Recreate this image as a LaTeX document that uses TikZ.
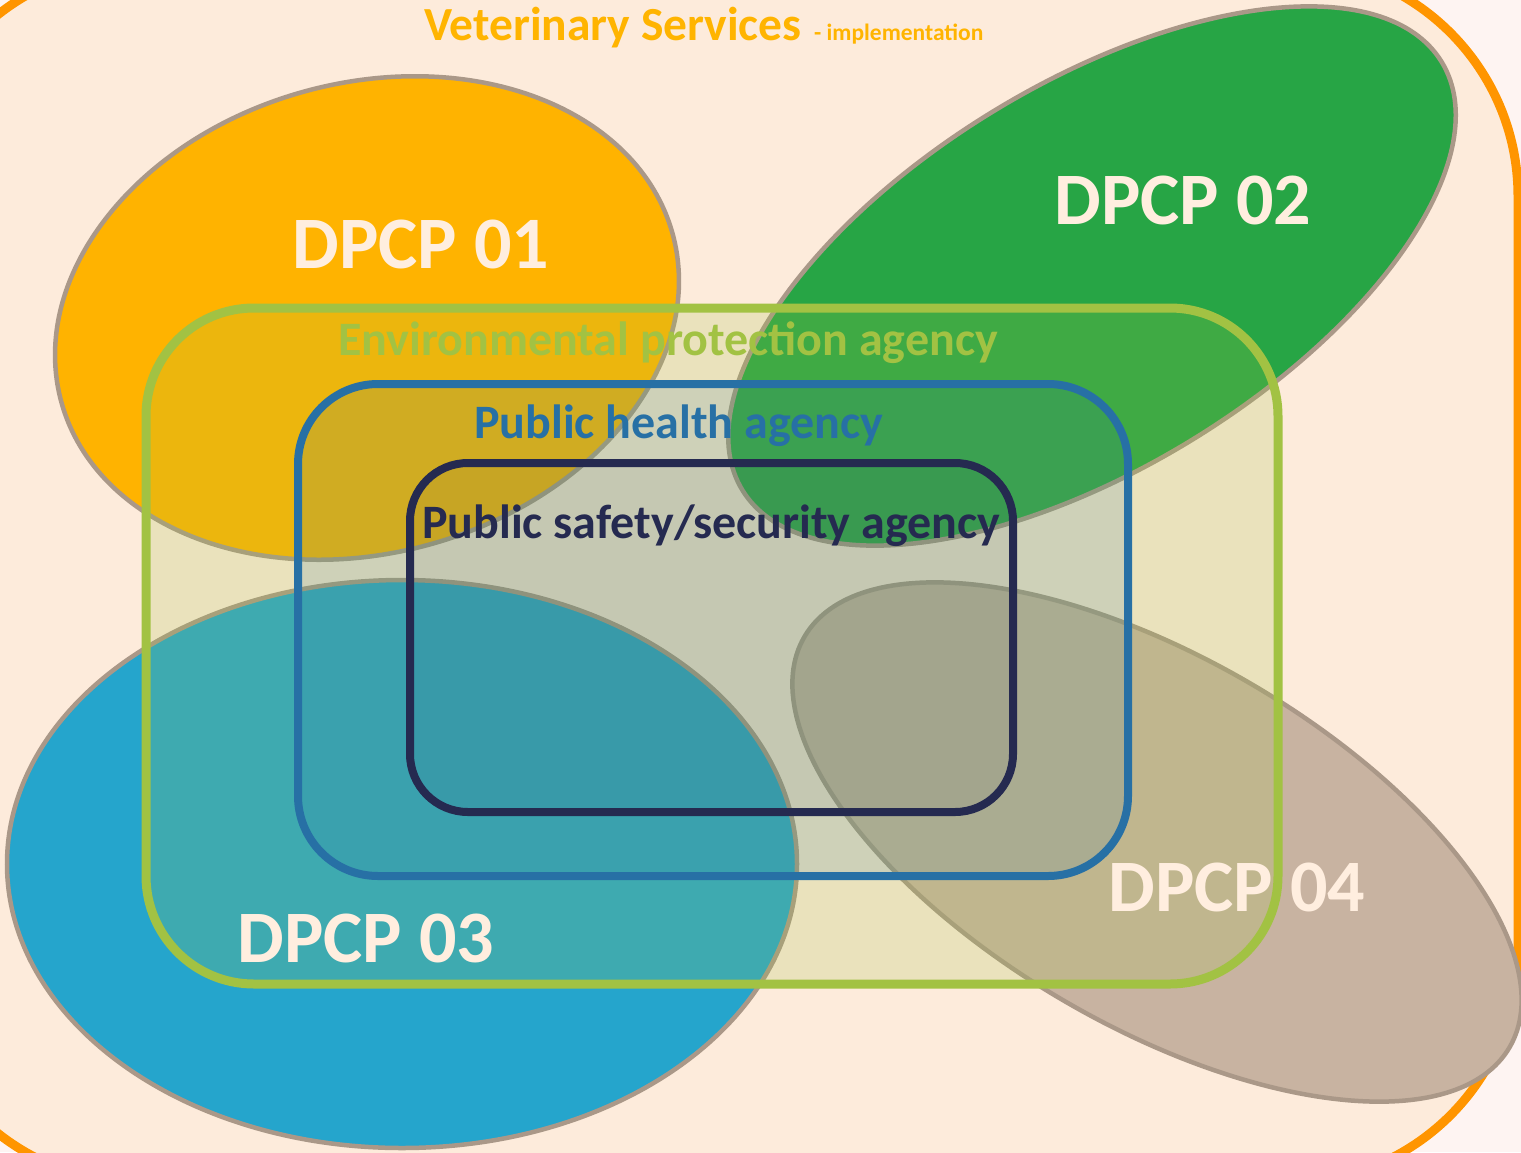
\documentclass[tikz,border=0pt]{standalone}
\usepackage{fontspec}
\setmainfont{Carlito}
\definecolor{outerbg}{HTML}{FEF4F2}
\definecolor{innerbg}{HTML}{FDEBDB}
\definecolor{frameorange}{HTML}{FF9500}
\definecolor{titlecol}{HTML}{FFB400}
\definecolor{eone}{HTML}{FFB300}
\definecolor{etwo}{HTML}{27A545}
\definecolor{ethree}{HTML}{25A5CC}
\definecolor{efour}{HTML}{C8B3A1}
\definecolor{eline}{HTML}{AA9888}
\definecolor{envgreen}{HTML}{A2C243}
\definecolor{phblue}{HTML}{2770A5}
\definecolor{navy}{HTML}{252A50}
\definecolor{dpcptext}{HTML}{FFEEDF}
\tikzset{
  blob/.style={draw=eline, line width=4.5pt},
  dpcplabel/.style={text=dpcptext, font=\fontsize{74}{80}\selectfont\bfseries, inner sep=0pt},
  agencylabel/.style={font=\fontsize{48}{54}\selectfont\bfseries, inner sep=0pt, anchor=base west},
}
\begin{document}
\begin{tikzpicture}[x=1pt,y=-1pt]
\useasboundingbox (0,0) rectangle (1521,1152);
\fill[outerbg] (0,0) rectangle (1521,1152);
\begin{scope}
\clip (0,0) rectangle (1521,1152);
% outer frame
\draw[frameorange, fill=innerbg, line width=9pt, rounded corners=231pt] (-90,-35) rectangle (1518,1183);
% ellipses
\draw[blob, fill=eone, rotate around={15.4:(367,318)}] (367,318) ellipse [x radius=317pt, y radius=235pt];
\draw[blob, fill=etwo, rotate around={31.5:(1092,276)}] (1092,276) ellipse [x radius=410pt, y radius=192pt];
\draw[blob, fill=ethree] (402,864) ellipse [x radius=395pt, y radius=284pt];
\draw[blob, fill=efour, rotate around={-30.2:(1157,842)}] (1157,842) ellipse [x radius=408pt, y radius=184pt];
\end{scope}
% rectangle fills
\fill[envgreen, fill opacity=0.2, rounded corners=108pt] (146,308) rectangle (1278,984);
\fill[phblue, fill opacity=0.14, rounded corners=80pt] (298,384) rectangle (1128,876);
\fill[navy, fill opacity=0.05, rounded corners=58pt] (410,463) rectangle (1013,812);
% DPCP labels
\node[dpcplabel] (d1) at (421,244) {DPCP 01};
\node[dpcplabel] (d2) at (1183,200) {DPCP 02};
\node[dpcplabel] (d3) at (366,938) {DPCP 03};
\node[dpcplabel] (d4) at (1237,887) {DPCP 04};
% rectangle strokes
\draw[envgreen, line width=9pt, rounded corners=108pt] (146,308) rectangle (1278,984);
\draw[phblue, line width=8pt, rounded corners=80pt] (298,384) rectangle (1128,876);
\draw[navy, line width=8pt, rounded corners=58pt] (410,463) rectangle (1013,812);
% agency labels
\node[agencylabel, text=envgreen] (env) at (338,355) {Environmental protection agency};
\node[agencylabel, text=phblue] (ph) at (474,438) {Public health agency};
\node[agencylabel, text=navy] (ps) at (422,538) {Public safety/security agency};
% title
\node[font=\fontsize{47.5}{52}\selectfont\bfseries, text=titlecol, inner sep=0pt, anchor=base west] (vs) at (424,40) {Veterinary Services};
\node[font=\fontsize{23.5}{26}\selectfont\bfseries, text=titlecol, inner sep=0pt, anchor=base west] (impl) at (814,40) {- implementation};
\end{tikzpicture}
\end{document}
